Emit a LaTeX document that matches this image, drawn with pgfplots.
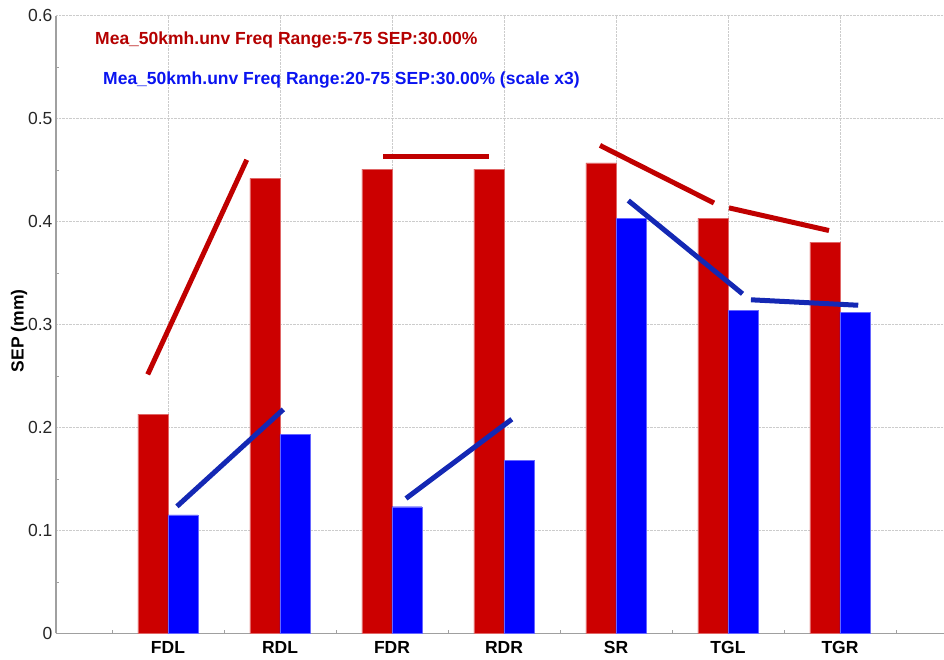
\documentclass[border=0pt]{standalone}
\usepackage{fontspec}
\setmainfont{Liberation Sans}
\usepackage{pgfplots}
\pgfplotsset{compat=1.18}
\definecolor{barred}{HTML}{CC0000}
\definecolor{barblue}{HTML}{0000FF}
\definecolor{linered}{HTML}{C00000}
\definecolor{lineblue}{HTML}{1428B4}
\definecolor{titlered}{HTML}{B40000}
\definecolor{titleblue}{HTML}{0A14F0}
\definecolor{axgray}{HTML}{A0A0A0}
\begin{document}
\begin{tikzpicture}[x=1pt,y=1pt]
\useasboundingbox (0,0) rectangle (944,659);
\begin{axis}[
  at={(56pt,25.7pt)}, anchor=south west,
  scale only axis, width=888pt, height=617.6pt,
  xmin=0, xmax=7.929, ymin=0, ymax=0.6,
  axis x line*=bottom, axis y line*=left,
  axis line style={axgray, line width=1.2pt, -},
  xtick={1,2,3,4,5,6,7},
  xticklabels={FDL,RDL,FDR,RDR,SR,TGL,TGR},
  minor xtick={0.5,1.5,2.5,3.5,4.5,5.5,6.5,7.5},
  ytick={0,0.1,0.2,0.3,0.4,0.5,0.6},
  yticklabels={0,0.1,0.2,0.3,0.4,0.5,0.6},
  minor ytick={0.05,0.15,0.25,0.35,0.45,0.55},
  major tick length=0pt, minor tick length=3pt,
  tick align=inside,
  minor tick style={axgray, line width=0.6pt},
  xmajorgrids, ymajorgrids,
  major grid style={gray!40, densely dotted, line width=0.8pt},
  x tick label style={font=\fontsize{17.5}{20}\selectfont\bfseries, text=black, anchor=base, yshift=-20pt},
  y tick label style={font=\fontsize{17.5}{20}\selectfont, text=black!85},
  /pgf/number format/assume math mode=true,
  ylabel={SEP (mm)},
  ylabel style={font=\fontsize{17.5}{20}\selectfont\bfseries, at={(ticklabel cs:0.49)}, yshift=-6pt},
  clip=false,
]
% bars
\addplot[ybar, bar width=30pt, bar shift=-15pt, fill=barred, draw=barred!60, line width=0.3pt]
  coordinates {(1,0.213) (2,0.442) (3,0.451) (4,0.451) (5,0.457) (6,0.403) (7,0.380)};
\addplot[ybar, bar width=30pt, bar shift=15pt, fill=barblue, draw=barblue!60, line width=0.3pt]
  coordinates {(1,0.115) (2,0.193) (3,0.123) (4,0.168) (5,0.403) (6,0.314) (7,0.312)};
% red line segments
\addplot[linered, line width=5pt] coordinates {(0.819,0.2515) (1.703,0.460)};
\addplot[linered, line width=5pt] coordinates {(2.92,0.463) (3.87,0.463)};
\addplot[linered, line width=5pt] coordinates {(4.857,0.474) (5.875,0.418)};
\addplot[linered, line width=5pt] coordinates {(6.009,0.4133) (6.902,0.3913)};
% blue line segments
\addplot[lineblue, line width=5pt] coordinates {(1.08,0.1233) (2.03,0.2175)};
\addplot[lineblue, line width=5pt] coordinates {(3.125,0.131) (4.07,0.208)};
\addplot[lineblue, line width=5pt] coordinates {(5.11,0.4204) (6.13,0.3298)};
\addplot[lineblue, line width=5pt] coordinates {(6.205,0.324) (7.163,0.3187)};
\end{axis}
\node[anchor=west, inner sep=0pt, text=titlered, font=\fontsize{17.5}{20}\selectfont\bfseries] at (95,619) {Mea\_50kmh.unv Freq Range:5-75 SEP:30.00\%};
\node[anchor=west, inner sep=0pt, text=titleblue, font=\fontsize{17.5}{20}\selectfont\bfseries] at (103,579) {Mea\_50kmh.unv Freq Range:20-75 SEP:30.00\% (scale x3)};
\end{tikzpicture}
\end{document}
